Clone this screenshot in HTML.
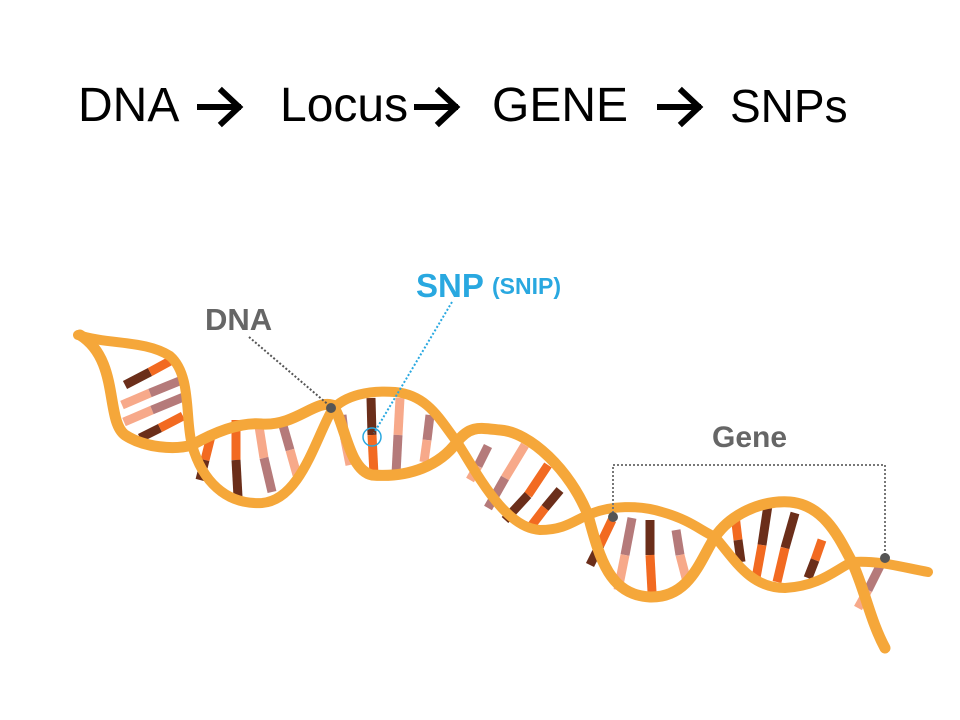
<!DOCTYPE html>
<html><head><meta charset="utf-8"><style>
body{margin:0;background:#fff;}
#c{position:relative;width:960px;height:720px;overflow:hidden;font-family:"Liberation Sans",sans-serif;}
.t{position:absolute;top:76px;font-size:48px;color:#000;line-height:60px;}
</style></head><body><div id="c">
<div class="t" style="left:78px">DNA</div>
<div class="t" style="left:280px">Locus</div>
<div class="t" style="left:492px">GENE</div>
<div class="t" style="left:730px;font-size:46px">SNPs</div>
<svg width="960" height="720" style="position:absolute;left:0;top:0">
<g stroke="#000" stroke-width="6" fill="none" stroke-linecap="square">
<path d="M200,107 H238 M222,91 L239,107 L222,123"/>
<path d="M417,107 H455 M439,91 L456,107 L439,123"/>
<path d="M660,107 H698 M682,91 L699,107 L682,123"/>
</g>
<g stroke-width="9" stroke-linecap="butt">
<line x1="125" y1="385" x2="150" y2="372" stroke="#6b2e1a"/><line x1="150" y1="372" x2="172" y2="360" stroke="#f26a21"/>
<line x1="122" y1="405" x2="150" y2="393" stroke="#f7a98a"/><line x1="150" y1="393" x2="182" y2="380" stroke="#b57a7a"/>
<line x1="124" y1="422" x2="152" y2="410" stroke="#f7a98a"/><line x1="152" y1="410" x2="186" y2="396" stroke="#b57a7a"/>
<line x1="140" y1="438" x2="160" y2="428" stroke="#6b2e1a"/><line x1="160" y1="428" x2="183" y2="416" stroke="#f26a21"/>
<line x1="212" y1="432" x2="205" y2="460" stroke="#f26a21"/><line x1="205" y1="460" x2="200" y2="480" stroke="#6b2e1a"/>
<line x1="236" y1="420" x2="236" y2="460" stroke="#f26a21"/><line x1="236" y1="460" x2="238" y2="497" stroke="#6b2e1a"/>
<line x1="258" y1="420" x2="264" y2="458" stroke="#f7a98a"/><line x1="264" y1="458" x2="272" y2="492" stroke="#b57a7a"/>
<line x1="282" y1="422" x2="290" y2="450" stroke="#b57a7a"/><line x1="290" y1="450" x2="297" y2="475" stroke="#f7a98a"/>
<line x1="342" y1="415" x2="345" y2="440" stroke="#b57a7a"/><line x1="345" y1="440" x2="350" y2="465" stroke="#f7a98a"/>
<line x1="371" y1="398" x2="372" y2="435" stroke="#6b2e1a"/><line x1="372" y1="435" x2="374" y2="475" stroke="#f26a21"/>
<line x1="400" y1="398" x2="398" y2="435" stroke="#f7a98a"/><line x1="398" y1="435" x2="396" y2="474" stroke="#b57a7a"/>
<line x1="430" y1="415" x2="427" y2="440" stroke="#b57a7a"/><line x1="427" y1="440" x2="424" y2="462" stroke="#f7a98a"/>
<line x1="488" y1="446" x2="478" y2="466" stroke="#b57a7a"/><line x1="478" y1="466" x2="470" y2="480" stroke="#f7a98a"/>
<line x1="525" y1="445" x2="505" y2="478" stroke="#f7a98a"/><line x1="505" y1="478" x2="488" y2="508" stroke="#b57a7a"/>
<line x1="548" y1="465" x2="528" y2="495" stroke="#f26a21"/><line x1="528" y1="495" x2="505" y2="520" stroke="#6b2e1a"/>
<line x1="560" y1="490" x2="545" y2="508" stroke="#6b2e1a"/><line x1="545" y1="508" x2="532" y2="525" stroke="#f26a21"/>
<line x1="612" y1="520" x2="600" y2="545" stroke="#f26a21"/><line x1="600" y1="545" x2="590" y2="565" stroke="#6b2e1a"/>
<line x1="632" y1="518" x2="625" y2="555" stroke="#b57a7a"/><line x1="625" y1="555" x2="618" y2="590" stroke="#f7a98a"/>
<line x1="650" y1="520" x2="650" y2="555" stroke="#6b2e1a"/><line x1="650" y1="555" x2="652" y2="592" stroke="#f26a21"/>
<line x1="676" y1="530" x2="680" y2="555" stroke="#b57a7a"/><line x1="680" y1="555" x2="686" y2="578" stroke="#f7a98a"/>
<line x1="735" y1="515" x2="738" y2="540" stroke="#f26a21"/><line x1="738" y1="540" x2="741" y2="562" stroke="#6b2e1a"/>
<line x1="768" y1="505" x2="762" y2="545" stroke="#6b2e1a"/><line x1="762" y1="545" x2="756" y2="578" stroke="#f26a21"/>
<line x1="795" y1="513" x2="785" y2="548" stroke="#6b2e1a"/><line x1="785" y1="548" x2="777" y2="582" stroke="#f26a21"/>
<line x1="822" y1="540" x2="815" y2="560" stroke="#f26a21"/><line x1="815" y1="560" x2="808" y2="578" stroke="#6b2e1a"/>
<line x1="880" y1="566" x2="868" y2="590" stroke="#b57a7a"/><line x1="868" y1="590" x2="858" y2="608" stroke="#f7a98a"/>
</g>
<g fill="none" stroke="#f5a73a" stroke-width="11" stroke-linecap="round">
<path d="M78,335 C110,345 145,340 170,356 C192,375 185,420 192,445 C202,480 225,505 262,503 C300,500 315,440 332,410 C345,395 370,390 395,392 C428,395 440,420 457,442 C478,475 505,528 540,530 C565,530 575,520 588,515 C610,505 640,505 662,512 C690,520 700,530 715,537 C735,560 750,588 785,588 C820,586 835,570 852,562 C880,560 905,568 928,572" stroke-width="10"/>
<path d="M80,335 C120,360 105,420 125,435 C145,448 175,450 192,445 C215,432 240,422 262,424 C295,426 315,400 332,405 C345,420 348,470 372,475 C410,478 440,465 457,442 C470,425 480,428 500,430 C530,432 570,470 588,515 C600,560 610,595 650,597 C690,598 700,560 715,537 C730,515 760,500 790,502 C825,505 840,540 852,562 C865,590 870,620 885,648"/>
</g>
<text x="205" y="330" font-size="31" font-weight="bold" fill="#666">DNA</text>
<text x="416" y="297" font-size="33" font-weight="bold" fill="#29a8e0">SNP</text>
<text x="492" y="294" font-size="23" font-weight="bold" fill="#29a8e0">(SNIP)</text>
<text x="712" y="447" font-size="30" font-weight="bold" fill="#666">Gene</text>
<g fill="none" stroke-dasharray="2,2" stroke-width="2">
<path d="M249,337 L331,407" stroke="#555"/>
<path d="M452,302 L374,433" stroke="#29a8e0"/>
<path d="M613,517 V465 H885 V558" stroke="#777"/>
</g>
<circle cx="331" cy="408" r="5" fill="#555"/>
<circle cx="372" cy="437" r="9" fill="none" stroke="#29a8e0" stroke-width="1.5"/>
<circle cx="613" cy="517" r="5" fill="#555"/>
<circle cx="885" cy="558" r="5" fill="#555"/>
</svg>
</div></body></html>
